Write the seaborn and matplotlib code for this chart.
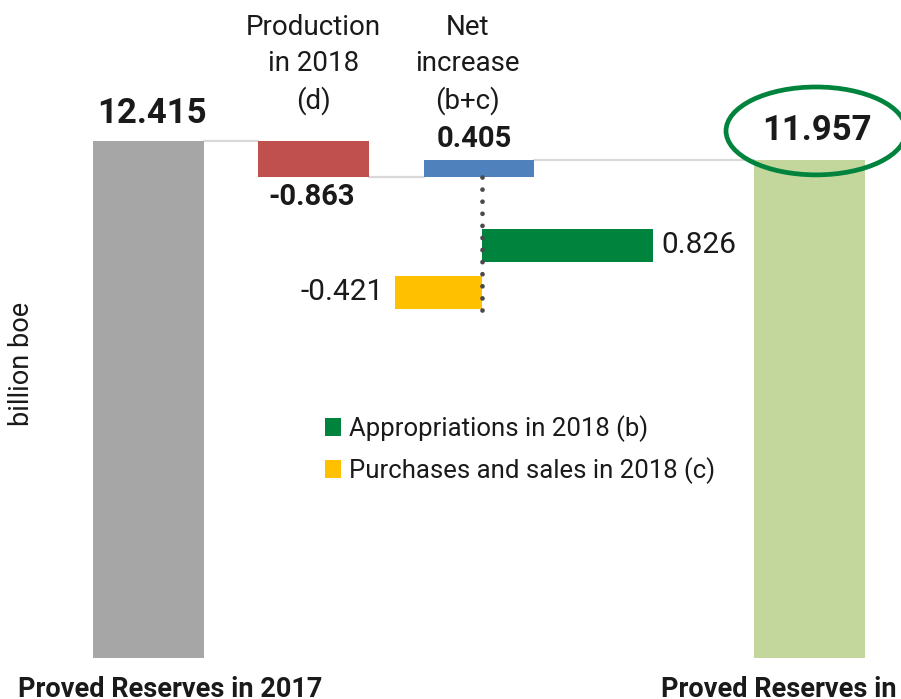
import numpy as np
import pandas as pd
import matplotlib
matplotlib.use("Agg")
import matplotlib.pyplot as plt
import seaborn as sns
from matplotlib.patches import Ellipse

# ---------------- data ----------------
step_names = ["Proved Reserves in 2017", "Production\nin 2018\n(d)",
              "Net\nincrease\n(b+c)", "Proved Reserves in 2018"]
step_positions = [0, 1, 2, 4]
step_values = [12.415, -0.863, 0.405, 11.957]
step_labels = ["12.415", "-0.863", "0.405", "11.957"]

components = ["Appropriations in 2018 (b)", "Purchases and sales in 2018 (c)"]
component_values = [0.826, -0.421]
component_labels = ["0.826", "-0.421"]

y_axis_label = "billion boe"

# ---------------- style ----------------
sns.set_theme(style="white")
plt.rcParams["font.family"] = ["Roboto", "DejaVu Sans"]

step_colors = ["#a6a6a6", "#c0504d", "#4f81bd", "#c3d69b"]
comp_colors = ["#00843d", "#ffc000"]
text_color = "#1a1a1a"
conn_color = "#d9d9d9"

W, H = 901, 699
fig = plt.figure(figsize=(W / 100, H / 100), dpi=100)

# main (waterfall) axes spanning figure
ax = fig.add_axes([0, 0, 1, 1])
ax.set_facecolor("none")

# compute floating bars
bottoms, heights, levels = [], [], []
running = 0.0
last = len(step_values) - 1
for i, v in enumerate(step_values):
    if i == 0 or i == last:
        bottoms.append(0.0)
        heights.append(v)
        running = v
    else:
        new = running + v
        bottoms.append(min(running, new))
        heights.append(abs(v))
        running = new
    levels.append(running)

bar_w = 0.67
df = pd.DataFrame({"pos": step_positions, "height": heights})
sns.barplot(data=df, x="pos", y="height", native_scale=True, errorbar=None,
            width=bar_w, bottom=bottoms, color=step_colors[0], saturation=1,
            linewidth=0, ax=ax, zorder=3)
for patch, c in zip(ax.patches, step_colors):
    patch.set_facecolor(c)
    patch.set_edgecolor(c)

# connectors
for i in range(len(step_positions) - 1):
    x0 = step_positions[i] + bar_w / 2
    x1 = step_positions[i + 1] - bar_w / 2
    ax.plot([x0, x1], [levels[i], levels[i]], color=conn_color, lw=1.6, zorder=1)

ax.set_xlim(-0.899, 4.554)
ax.set_ylim(-0.985, 15.80)
ax.axis("off")

# value labels
ax.text(step_positions[0] + 0.02, heights[0] + 0.66, step_labels[0], ha="center", va="center",
        fontsize=25, fontweight="bold", color=text_color)
ax.text(step_positions[1] - 0.01, bottoms[1] - 0.48, step_labels[1], ha="center", va="center",
        fontsize=21, fontweight="bold", color=text_color)
ax.text(step_positions[2] - 0.03, bottoms[2] + heights[2] + 0.50, step_labels[2], ha="center",
        va="center", fontsize=21, fontweight="bold", color=text_color)
ax.text(step_positions[3] + 0.045, heights[3] + 0.72, step_labels[3], ha="center", va="center",
        fontsize=25, fontweight="bold", color=text_color)

# category headers
ax.text(step_positions[1], 14.25, step_names[1], ha="center", va="center",
        fontsize=20, color=text_color, linespacing=1.4)
ax.text(step_positions[2] - 0.07, 14.25, step_names[2], ha="center", va="center",
        fontsize=20, color=text_color, linespacing=1.4)

# bottom labels
ax.text(step_positions[0] + 0.13, -0.93, step_names[0], ha="center", va="baseline",
        fontsize=19.5, fontweight="bold", color=text_color)
ax.text(step_positions[3] + 0.02, -0.93, step_names[3], ha="center", va="baseline",
        fontsize=19.5, fontweight="bold", color=text_color)

# y label
ax.text(22 / W, 1 - 364 / H, y_axis_label, transform=ax.transAxes, rotation=90,
        ha="center", va="center", fontsize=19.5, color=text_color)

# hand-drawn style ellipse around final value
ell = Ellipse((step_positions[3] + 0.04, 12.656), width=1.09, height=2.11,
              fill=False, edgecolor=comp_colors[0], lw=3.4, zorder=5)
ax.add_patch(ell)

# ---------------- component (horizontal) bars ----------------
ax2 = fig.add_axes([0, 0, 1, 1])
ax2.set_facecolor("none")
cdf = pd.DataFrame({"component": components, "value": component_values})
sns.barplot(data=cdf, x="value", y="component", hue="component", palette=comp_colors,
            saturation=1, orient="h", width=0.70, errorbar=None, linewidth=0, ax=ax2,
            legend=True, zorder=3)
ax2.set_xlim(-482 / 207, (W - 482) / 207)
ax2.set_ylim(9.649, -5.223)
ax2.axis("off")

# dotted zero line
ax2.plot([0, 0], [-1.457, 1.436], color="#4a4a4a", lw=3.4,
         linestyle=(0, (0.01, 2.55)), dash_capstyle="round", zorder=4)

for i, (v, lab) in enumerate(zip(component_values, component_labels)):
    if v >= 0:
        ax2.annotate(lab, (v, i), xytext=(6, 0), textcoords="offset points",
                     ha="left", va="center", fontsize=21.5, color=text_color)
    else:
        ax2.annotate(lab, (v, i), xytext=(-8, 0), textcoords="offset points",
                     ha="right", va="center", fontsize=21.5, color=text_color)

leg = ax2.legend(loc="upper left", bbox_to_anchor=(325 / W, 1 - 415 / H),
                 bbox_transform=fig.transFigure, frameon=False, fontsize=18.5,
                 handlelength=0.62, handleheight=0.7, handletextpad=0.3,
                 labelspacing=0.6, borderpad=0, borderaxespad=0)
for t in leg.get_texts():
    t.set_color(text_color)

fig.savefig("out.png", dpi=100)
